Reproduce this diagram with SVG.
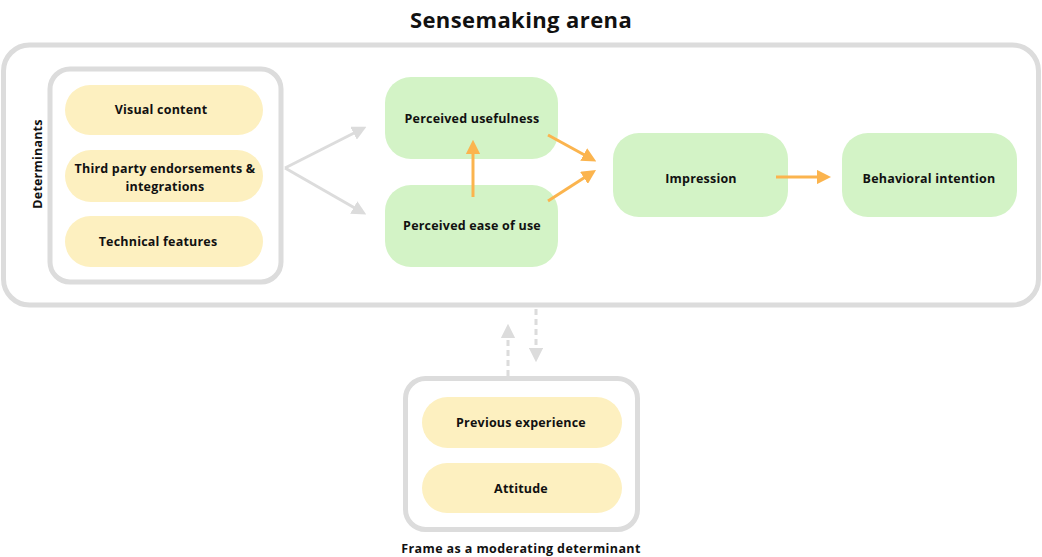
<svg xmlns="http://www.w3.org/2000/svg" width="1042" height="557" viewBox="0 0 1042 557">
<style>
text{font-family:"Open Sans","Liberation Sans",sans-serif;font-weight:700;fill:#111;text-anchor:middle;dominant-baseline:central}
.frame{fill:#fff;stroke:#dcdcdc;stroke-width:5}
.y{fill:#fdf0c0}
.g{fill:#d3f3c6}
.t{font-size:12.5px;letter-spacing:0.2px}
.gray{stroke:#dcdcdc;stroke-width:3;fill:none}
.org{stroke:#fbb44e;stroke-width:3;fill:none}
.dash{stroke:#dcdcdc;stroke-width:3;fill:none;stroke-dasharray:6 4}
</style>
<defs>
<marker id="ag" viewBox="0 0 10 10" refX="5" refY="5" markerWidth="4.8" markerHeight="4.8" orient="auto" markerUnits="strokeWidth"><path d="M0,0L10,5L0,10z" fill="#dcdcdc"/></marker>
<marker id="ao" viewBox="0 0 10 10" refX="5" refY="5" markerWidth="4.8" markerHeight="4.8" orient="auto" markerUnits="strokeWidth"><path d="M0,0L10,5L0,10z" fill="#fbb44e"/></marker>
</defs>
<rect width="1042" height="557" fill="#fff"/>
<text x="521" y="19" style="font-size:22px;letter-spacing:0.4px">Sensemaking arena</text>
<g id="arena"><rect class="frame" x="3.5" y="45" width="1035" height="260" rx="26"/></g>
<g id="determinants">
<rect class="frame" x="50" y="69" width="231" height="213" rx="20"/>
<text class="t" transform="translate(37,164) rotate(-90)">Determinants</text>
</g>
<g id="visual"><rect class="y" x="65" y="85" width="198" height="50" rx="25"/><text class="t" x="161" y="109">Visual content</text></g>
<g id="third"><rect class="y" x="65" y="150" width="198" height="52" rx="26"/><text class="t" x="165" y="168">Third party endorsements &amp;</text><text class="t" x="165" y="186">integrations</text></g>
<g id="technical"><rect class="y" x="65" y="216" width="198" height="51" rx="25.5"/><text class="t" x="158" y="241">Technical features</text></g>
<g id="usefulness"><rect class="g" x="385" y="77" width="173" height="82" rx="26"/><text class="t" x="472" y="118">Perceived usefulness</text></g>
<g id="ease"><rect class="g" x="385" y="185" width="173" height="82" rx="26"/><text class="t" x="472" y="225">Perceived ease of use</text></g>
<g id="impression"><rect class="g" x="613" y="133" width="175" height="84" rx="26"/><text class="t" x="701" y="178">Impression</text></g>
<g id="behavioral"><rect class="g" x="842" y="133" width="175" height="84" rx="26"/><text class="t" x="929" y="178">Behavioral intention</text></g>
<g id="frame">
<rect class="frame" x="405.5" y="378.5" width="232" height="151" rx="20"/>
<text class="t" x="521" y="548" style="letter-spacing:0.4px">Frame as a moderating determinant</text>
</g>
<g id="previous"><rect class="y" x="422" y="397" width="200" height="51" rx="25.5"/><text class="t" x="521" y="422">Previous experience</text></g>
<g id="attitude"><rect class="y" x="422" y="463" width="200" height="50" rx="25"/><text class="t" x="521" y="488">Attitude</text></g>
<g id="connectors">
<path class="gray" d="M285,168L360,130" marker-end="url(#ag)"/>
<path class="gray" d="M285,168L360,211" marker-end="url(#ag)"/>
<path class="org" d="M473,197V147" marker-end="url(#ao)"/>
<path class="org" d="M548,135L590,158" marker-end="url(#ao)"/>
<path class="org" d="M548,201L590,174" marker-end="url(#ao)"/>
<path class="org" d="M776,177H824" marker-end="url(#ao)"/>
<path class="dash" d="M508,376V331" marker-end="url(#ag)"/>
<path class="dash" d="M536,309V355" marker-end="url(#ag)"/>
</g>
</svg>
